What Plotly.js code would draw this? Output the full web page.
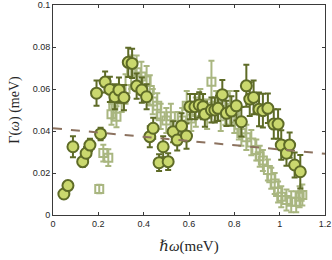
<!DOCTYPE html>
<html><head><meta charset="utf-8">
<script src="https://cdn.plot.ly/plotly-3.0.1.min.js"></script>
<style>html,body{margin:0;padding:0;background:#fff}#chart{width:332px;height:260px}</style>
</head><body><div id="chart"></div>
<script>
const circleX = [0.048,0.066,0.088,0.131,0.146,0.163,0.192,0.210,0.230,0.251,0.273,0.291,0.313,0.332,0.349,0.369,0.392,0.413,0.427,0.442,0.468,0.486,0.508,0.530,0.548,0.567,0.589,0.604,0.626,0.645,0.662,0.670,0.699,0.714,0.728,0.747,0.765,0.787,0.809,0.831,0.853,0.868,0.885,0.909,0.926,0.948,0.974,0.993,1.007,1.030,1.044,1.066,1.091];
const circleY = [0.0100,0.0140,0.0325,0.0254,0.0294,0.0333,0.0580,0.0386,0.0633,0.0598,0.0563,0.0595,0.0559,0.0727,0.0722,0.0614,0.0595,0.0563,0.0373,0.0413,0.0249,0.0325,0.0254,0.0397,0.0357,0.0424,0.0376,0.0516,0.0516,0.0524,0.0516,0.0480,0.0500,0.0500,0.0508,0.0573,0.0484,0.0495,0.0520,0.0444,0.0615,0.0552,0.0560,0.0503,0.0497,0.0508,0.0433,0.0433,0.0333,0.0294,0.0333,0.0238,0.0206];
const circleErr = [0.0015,0.0018,0.005,0.0025,0.003,0.003,0.006,0.003,0.005,0.006,0.006,0.006,0.006,0.007,0.007,0.006,0.006,0.006,0.005,0.005,0.004,0.005,0.004,0.005,0.005,0.006,0.006,0.006,0.006,0.006,0.006,0.006,0.006,0.006,0.006,0.007,0.006,0.007,0.007,0.007,0.010,0.008,0.008,0.008,0.008,0.007,0.007,0.007,0.007,0.006,0.006,0.006,0.008];

const squareX = [0.204,0.222,0.244,0.258,0.280,0.266,0.303,0.320,0.345,0.369,0.390,0.413,0.427,0.440,0.460,0.475,0.500,0.520,0.550,0.570,0.590,0.610,0.630,0.650,0.680,0.699,0.720,0.740,0.760,0.780,0.800,0.820,0.831,0.853,0.875,0.897,0.912,0.926,0.948,0.963,0.978,0.993,1.007,1.030,1.051,1.073,1.088,1.100];
const squareY = [0.0124,0.0295,0.0273,0.0480,0.0468,0.0520,0.0550,0.0600,0.0680,0.0680,0.0660,0.0640,0.0595,0.0540,0.0520,0.0470,0.0450,0.0470,0.0430,0.0450,0.0520,0.0460,0.0490,0.0530,0.0480,0.0635,0.0520,0.0470,0.0500,0.0510,0.0460,0.0430,0.0390,0.0370,0.0345,0.0310,0.0280,0.0260,0.0214,0.0175,0.0150,0.0110,0.0087,0.0071,0.0063,0.0063,0.0087,0.0095];
const squareErr = [0.002,0.004,0.004,0.005,0.005,0.006,0.006,0.007,0.008,0.008,0.007,0.007,0.007,0.006,0.006,0.006,0.006,0.006,0.006,0.006,0.007,0.006,0.007,0.007,0.007,0.010,0.007,0.007,0.007,0.008,0.007,0.007,0.006,0.006,0.006,0.005,0.005,0.005,0.005,0.005,0.005,0.005,0.005,0.005,0.005,0.005,0.005,0.005];

const fitX = [0, 1.2];
const fitY = [0.0413, 0.0292];

const xTicks = [0,0.2,0.4,0.6,0.8,1,1.2];
const yTicks = [0,0.02,0.04,0.06,0.08,0.1];

const traces = [
  {x: squareX, y: squareY, type:'scatter', mode:'markers',
   error_y:{type:'data', array: squareErr, color:'#a9b680', thickness:2, width:3},
   marker:{symbol:'square-open', size:8, color:'#a9b680', line:{width:2, color:'#a9b680'}}, hoverinfo:'none'},
  {x: circleX, y: circleY, type:'scatter', mode:'markers',
   error_y:{type:'data', array: circleErr, color:'#5e6b27', thickness:2, width:3},
   marker:{symbol:'circle', size:11, color:'#cad86e', line:{width:2, color:'#5e6b27'}}, hoverinfo:'none'},
  {x: fitX, y: fitY, type:'scatter', mode:'lines',
   line:{color:'#8c725f', width:2, dash:'dash'}, hoverinfo:'none'}
];

const axisCommon = {showline:true, mirror:'ticks', linecolor:'#3a3a3a', linewidth:1,
  ticks:'inside', ticklen:3, tickcolor:'#3a3a3a', showgrid:false, zeroline:false,
  tickfont:{family:'Liberation Sans, Arial, sans-serif', size:9, color:'#262626'}};

const layout = {
  width:332, height:260, showlegend:false,
  margin:{l:53, r:7, t:5, b:45},
  paper_bgcolor:'#fff', plot_bgcolor:'#fff',
  xaxis: Object.assign({}, axisCommon, {range:[0,1.2], tickvals:xTicks, ticktext:xTicks.map(String),
    title:{text:'<i>ℏω</i>(meV)', font:{family:'Liberation Serif, DejaVu Serif, serif', size:15, color:'#262626'}, standoff:12}}),
  yaxis: Object.assign({}, axisCommon, {range:[0,0.1], tickvals:yTicks, ticktext:yTicks.map(String),
    title:{text:'Γ(<i>ω</i>) (meV)', font:{family:'Liberation Serif, DejaVu Serif, serif', size:14, color:'#262626'}, standoff:9}})
};

Plotly.newPlot('chart', traces, layout, {staticPlot:true, displayModeBar:false});
</script></body></html>
